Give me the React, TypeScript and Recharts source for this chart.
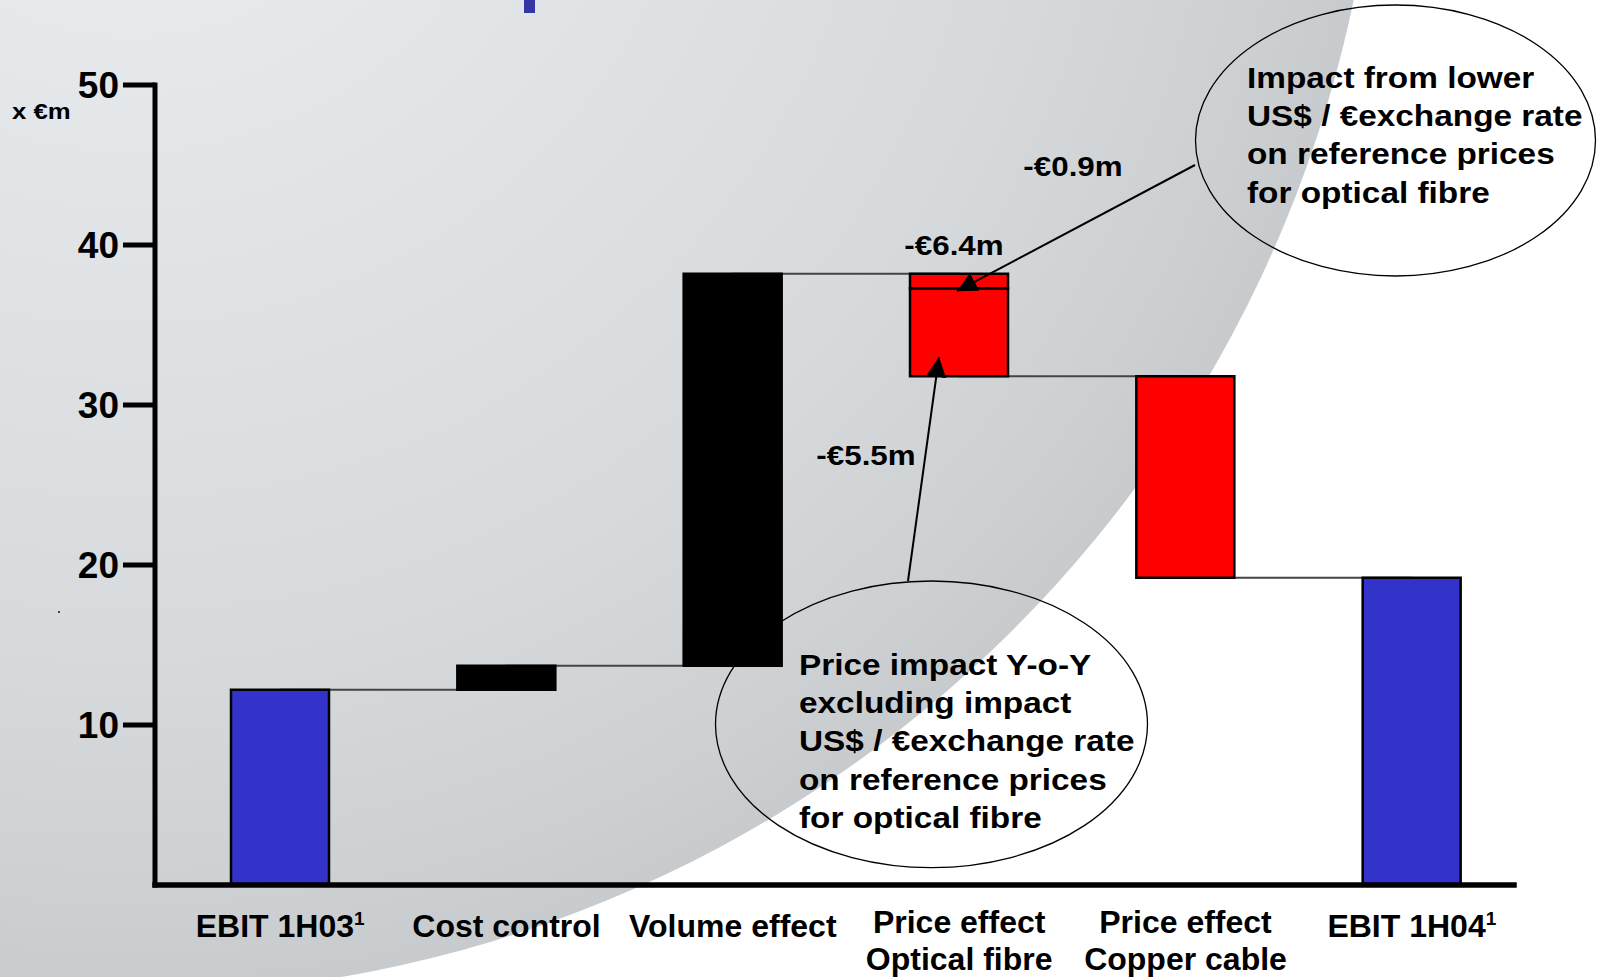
import React from "react";
import { ComposedChart, Bar, Line, XAxis, YAxis, Cell, LabelList } from "recharts";

// categories ("|" splits a two-line label)
const categories = [
  "EBIT 1H03",
  "Cost control",
  "Volume effect",
  "Price effect|Optical fibre",
  "Price effect|Copper cable",
  "EBIT 1H04",
];
const footnoted = [true, false, false, false, false, true];
// step values in €m
const changes = [12.2, 1.5, 24.5, -6.4, -12.6, 19.2];
const kinds = ["total", "up", "up", "down", "down", "total"];
// part of the step drawn as a separate top segment (exchange-rate impact)
const upperParts = [0, 0, 0, 0.9, 0, 0];
const yTicks = [10, 20, 30, 40, 50];

const topCallout = ["Impact from lower", "US$ / €exchange rate", "on reference prices", "for optical fibre"];
const bottomCallout = [
  "Price impact Y-o-Y",
  "excluding impact",
  "US$ / €exchange rate",
  "on reference prices",
  "for optical fibre",
];
const exchangeImpact = "-€0.9m";
const priceImpact = "-€5.5m";

const colors: Record<string, string> = { total: "#3333cc", up: "#000000", down: "#ff0000" };
const FONT = "'Liberation Sans', Arial, sans-serif";

const W = 1600;
const H = 977;
const M = { top: 85, right: 86, left: 0, bottom: 0 };
const X_AXIS_H = 92;
const PLOT_BOTTOM = H - M.bottom - X_AXIS_H;
const yOf = (v: number) => PLOT_BOTTOM - (v / 50) * (PLOT_BOTTOM - M.top);

const fmt = (d: number) => (d < 0 ? "-" : "") + "€" + Math.abs(d).toFixed(1) + "m";

let running = 0;
const rows = categories.map((name, i) => {
  const d = changes[i];
  let base = 0;
  if (kinds[i] === "total") {
    running = d;
  } else if (d >= 0) {
    base = running;
    running += d;
  } else {
    running += d;
    base = running;
  }
  const extra = upperParts[i];
  return {
    name,
    base: +base.toFixed(2),
    main: +(Math.abs(d) - extra).toFixed(2),
    extra,
    total: +running.toFixed(2),
    label: fmt(d),
  };
});

// bold text, slightly widened like the slide's stretched labels
function WideText({ x, y, text, size, sx, anchor = "middle" }: any) {
  return (
    <text
      transform={`translate(${x},${y}) scale(${sx},1)`}
      textAnchor={anchor}
      fontFamily={FONT}
      fontWeight={700}
      fontSize={size}
      fill="#000"
    >
      {text}
    </text>
  );
}

function ValueLabel(props: any) {
  const { x, y, width, value } = props;
  return <WideText x={Number(x) + Number(width) / 2 - 5} y={Number(y) - 19} text={String(value)} size={28} sx={1.12} />;
}

function CategoryTick(props: any) {
  const { x, y, payload } = props;
  const i = categories.indexOf(payload.value);
  const lines = String(payload.value).split("|");
  const common = { textAnchor: "middle" as const, fontFamily: FONT, fontWeight: 700, fontSize: 32, fill: "#000" };
  if (lines.length === 1) {
    return (
      <text x={x} y={y + 52} {...common}>
        {lines[0]}
        {footnoted[i] && (
          <tspan dy={-12} fontSize={19}>
            1
          </tspan>
        )}
      </text>
    );
  }
  return (
    <text x={x} y={y + 48} {...common}>
      <tspan x={x}>{lines[0]}</tspan>
      <tspan x={x} dy={37}>
        {lines[1]}
      </tspan>
    </text>
  );
}

function Background() {
  return (
    <svg width={W} height={H} style={{ position: "absolute", left: 0, top: 0 }}>
      <defs>
        <radialGradient id="bgGrad" gradientUnits="userSpaceOnUse" cx={130} cy={-255} r={1250}>
          <stop offset="0" stopColor="#eceef0" />
          <stop offset="0.23" stopColor="#e6e9eb" />
          <stop offset="0.73" stopColor="#d7dadd" />
          <stop offset="0.93" stopColor="#cdd0d3" />
          <stop offset="1" stopColor="#c8cbce" />
        </radialGradient>
      </defs>
      <rect width={W} height={H} fill="#ffffff" />
      <circle cx={130} cy={-255} r={1250} fill="url(#bgGrad)" />
      <rect x={524} y={0} width={11} height={13} fill="#3535a5" />
      <rect x={58} y={611} width={2} height={2} fill="#444" />
    </svg>
  );
}

function Annotations() {
  const fibreSplitY = yOf(rows[3].base + rows[3].main);
  const calloutText = (lines: string[], x: number, y0: number) =>
    lines.map((t, k) => <WideText key={k} x={x} y={y0 + k * 38.2} text={t} size={29} sx={1.15} anchor="start" />);
  return (
    <svg width={W} height={H} style={{ position: "absolute", left: 0, top: 0, pointerEvents: "none" }}>
      <defs>
        <marker id="head" markerUnits="userSpaceOnUse" markerWidth={20} markerHeight={20} refX={20} refY={10} orient="auto">
          <path d="M0,0 L20,10 L0,20 z" fill="#000" />
        </marker>
      </defs>
      <WideText x={12} y={119} text="x €m" size={23} sx={1.12} anchor="start" />
      <ellipse cx={1395.5} cy={140.5} rx={200} ry={135.5} fill="none" stroke="#000" strokeWidth={1.3} />
      <ellipse cx={931.5} cy={724.3} rx={216} ry={143.3} fill="none" stroke="#000" strokeWidth={1.3} />
      <line x1={1195} y1={165} x2={957} y2={fibreSplitY + 3} stroke="#000" strokeWidth={2} markerEnd="url(#head)" />
      <line x1={908} y1={581} x2={939} y2={357} stroke="#000" strokeWidth={2} markerEnd="url(#head)" />
      {calloutText(topCallout, 1247, 88)}
      {calloutText(bottomCallout, 799, 675)}
      <WideText x={1073} y={176} text={exchangeImpact} size={28} sx={1.12} />
      <WideText x={866} y={465} text={priceImpact} size={28} sx={1.12} />
    </svg>
  );
}

export default function App() {
  return (
    <div style={{ position: "absolute", left: 0, top: 0, width: W, height: H, overflow: "hidden" }}>
      <Background />
      <div style={{ position: "absolute", left: 0, top: 0 }}>
        <ComposedChart width={W} height={H} data={rows} margin={M} barSize={98}>
          <XAxis
            dataKey="name"
            interval={0}
            height={X_AXIS_H}
            padding={{ left: 12, right: -11 }}
            tickLine={false}
            tickSize={0}
            tickMargin={0}
            axisLine={{ stroke: "#000", strokeWidth: 5.5, strokeLinecap: "square" }}
            tick={<CategoryTick />}
          />
          <YAxis
            width={155}
            domain={[0, 50]}
            ticks={yTicks}
            type="number"
            allowDataOverflow
            tickSize={32}
            tickMargin={4}
            axisLine={{ stroke: "#000", strokeWidth: 5, strokeLinecap: "square" }}
            tickLine={{ stroke: "#000", strokeWidth: 5 }}
            tick={{ fill: "#000", fontSize: 37, fontWeight: 700, fontFamily: FONT }}
          />
          <Line
            dataKey="total"
            type="stepAfter"
            stroke="#444"
            strokeWidth={2}
            dot={false}
            activeDot={false}
            legendType="none"
            isAnimationActive={false}
            zIndex={250}
          />
          <Bar dataKey="base" stackId="w" fill="transparent" isAnimationActive={false} />
          <Bar dataKey="main" stackId="w" stroke="#000" strokeWidth={2.5} isAnimationActive={false}>
            {rows.map((r, i) => (
              <Cell key={r.name} fill={colors[kinds[i]]} />
            ))}
          </Bar>
          <Bar dataKey="extra" stackId="w" fill="#ff0000" stroke="#000" strokeWidth={2.5} isAnimationActive={false}>
            <LabelList dataKey="label" content={<ValueLabel />} />
          </Bar>
        </ComposedChart>
      </div>
      <Annotations />
    </div>
  );
}
